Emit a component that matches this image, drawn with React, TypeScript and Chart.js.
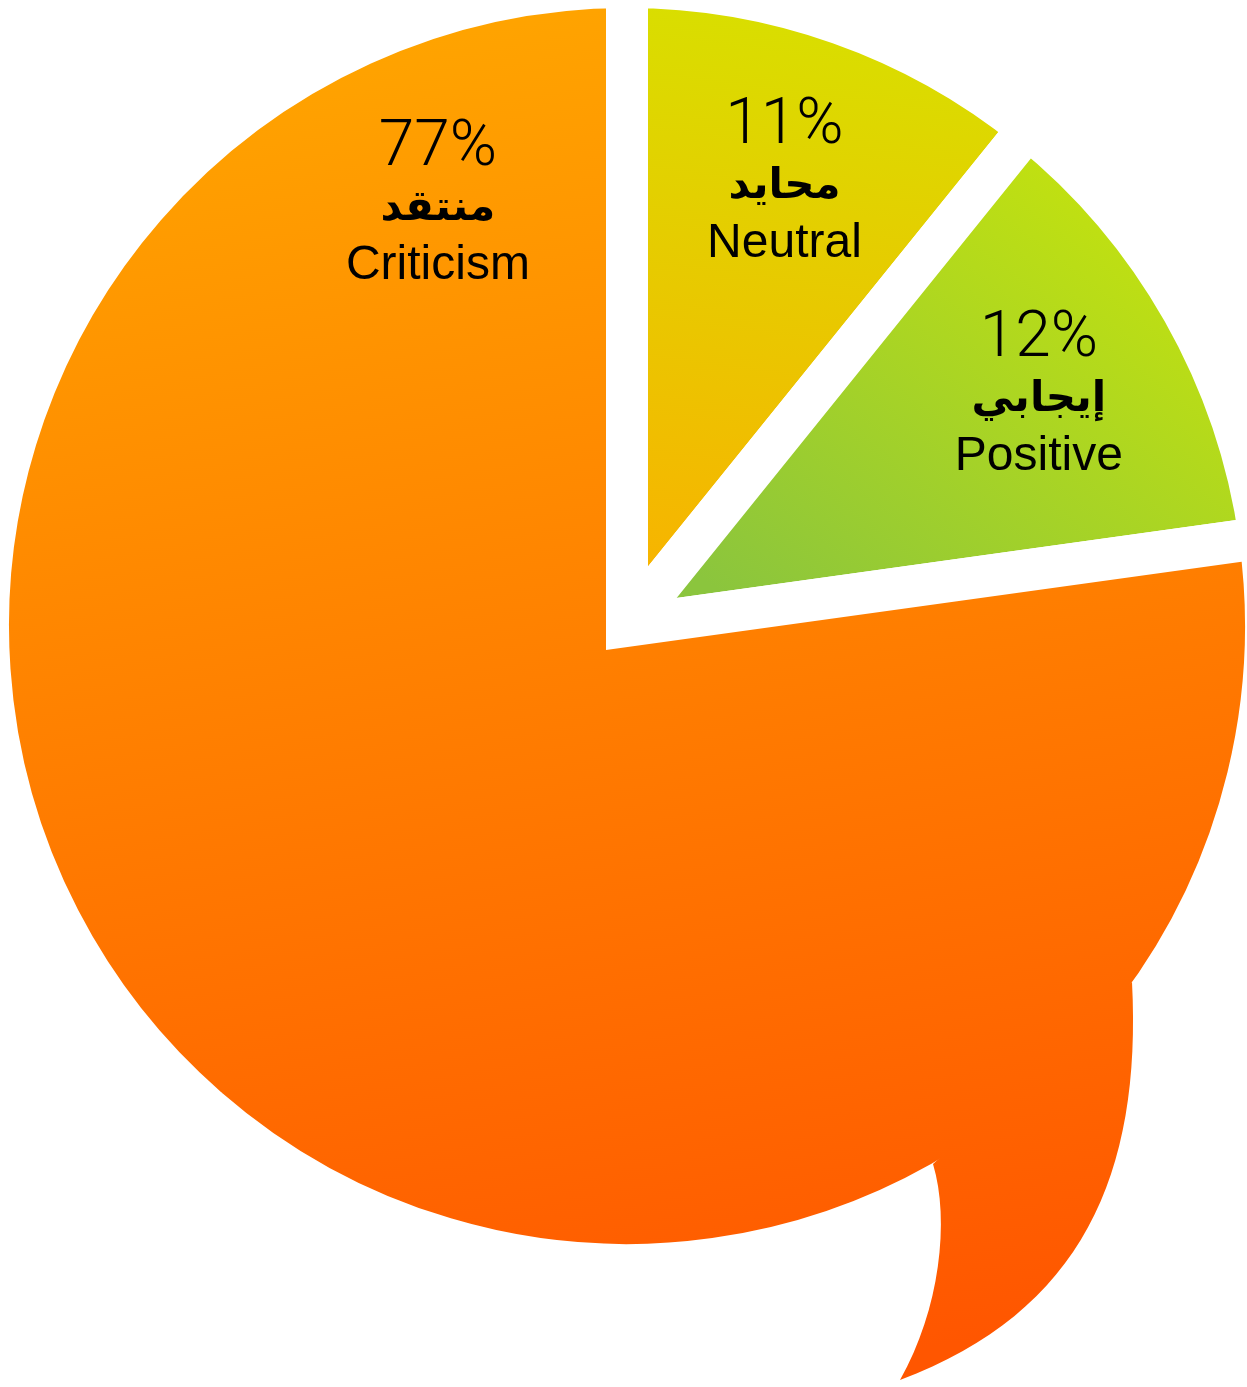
import React, { useEffect, useRef } from "react";
import { Chart, registerables } from "chart.js";

Chart.register(...registerables);

// ---- data ----
const categories = ["Neutral", "Positive", "Criticism"];
const arabicLabels = ["محايد", "إيجابي", "منتقد"];
const shares = [10.8, 12.0, 77.2];
const percentLabels = ["11%", "12%", "77%"];

// ---- styles ----
const gradientTop = ["#D9DE00", "#C4E20E", "#FFA400"];
const gradientBottom = ["#F7B400", "#8BC53D", "#FF5600"];
// gradient start / end, relative to pie centre, in units of the visible radius
const gradientFrom = [[0.12, -1.0], [0.77, -0.75], [-0.2, -1.0]];
const gradientTo = [[0.0, -0.1], [0.21, -0.01], [0.21, 1.22]];
// label anchor: angle (deg, clockwise from 12 o'clock) and radius fraction
const labelAngle = [20.2, 62.4, 335];
const labelRadius = [0.738, 0.752, 0.724];

const GAP = 42; // white gap between slices (drawn as slice border)
const VISIBLE_R = 618;
const W = 1247;
const H = 1387;

function geometry(chart: any) {
  const a = chart.chartArea;
  const cx = (a.left + a.right) / 2;
  const cy = (a.top + a.bottom) / 2;
  return { cx, cy, R: VISIBLE_R };
}

function sliceGradient(chart: any, i: number) {
  const { cx, cy, R } = geometry(chart);
  const g = chart.ctx.createLinearGradient(
    cx + gradientFrom[i][0] * R,
    cy + gradientFrom[i][1] * R,
    cx + gradientTo[i][0] * R,
    cy + gradientTo[i][1] * R
  );
  g.addColorStop(0, gradientTop[i]);
  g.addColorStop(1, gradientBottom[i]);
  return g;
}

const tailPlugin = {
  id: "speechTail",
  afterDatasetsDraw(chart: any) {
    if (!chart.chartArea) return;
    const i = categories.indexOf("Criticism");
    const { cx, cy, R } = geometry(chart);
    const k = R / 618;
    const p = (dx: number, dy: number): [number, number] => [cx + dx * k, cy + dy * k];
    const ctx = chart.ctx;
    ctx.save();
    ctx.beginPath();
    ctx.moveTo(...p(505, 356));
    ctx.bezierCurveTo(...p(515, 548), ...p(455, 686), ...p(273, 754));
    ctx.bezierCurveTo(...p(313, 684), ...p(323, 594), ...p(306, 538));
    ctx.closePath();
    ctx.fillStyle = sliceGradient(chart, i);
    ctx.fill();
    ctx.restore();
  },
};

const labelPlugin = {
  id: "sliceLabels",
  afterDraw(chart: any) {
    const meta = chart.getDatasetMeta(0);
    const ctx = chart.ctx;
    ctx.save();
    ctx.fillStyle = "#000";
    ctx.textAlign = "center";
    ctx.textBaseline = "alphabetic";
    meta.data.forEach((el: any, i: number) => {
      const { x, y } = el.getProps(["x", "y"], true);
      const R = VISIBLE_R;
      const ang = (labelAngle[i] - 90) * Math.PI / 180;
      const lx = x + Math.cos(ang) * R * labelRadius[i];
      const ly = y + Math.sin(ang) * R * labelRadius[i];
      ctx.font = '300 64px Roboto, "Helvetica Neue", Arial, sans-serif';
      ctx.fillText(percentLabels[i], lx, ly - 55);
      ctx.font = 'bold 42px "DejaVu Sans", "Noto Sans", sans-serif';
      ctx.fillText(arabicLabels[i], lx, ly);
      ctx.font = '48px "Liberation Sans", Arial, Helvetica, sans-serif';
      ctx.fillText(categories[i], lx, ly + 59);
    });
    ctx.restore();
  },
};

export default function App() {
  const ref = useRef<HTMLCanvasElement | null>(null);

  useEffect(() => {
    if (!ref.current) return;
    const chart = new Chart(ref.current, {
      type: "pie",
      data: {
        labels: categories,
        datasets: [
          {
            data: shares,
            backgroundColor: (c: any) =>
              c.chart.chartArea ? sliceGradient(c.chart, c.dataIndex) : gradientTop[c.dataIndex],
            borderColor: "#ffffff",
            borderWidth: GAP,
            borderAlign: "center",
            borderJoinStyle: "miter",
          } as any,
        ],
      },
      options: {
        responsive: false,
        animation: false,
        events: [],
        radius: VISIBLE_R + GAP / 2,
        layout: { padding: { left: 7, right: 0, top: 0, bottom: 135 } },
        plugins: {
          legend: { display: false },
          tooltip: { enabled: false },
        },
      } as any,
      plugins: [tailPlugin, labelPlugin],
    });
    return () => chart.destroy();
  }, []);

  return (
    <div style={{ position: "fixed", left: 0, top: 0, width: W, height: H, background: "#fff" }}>
      <canvas ref={ref} width={W} height={H} style={{ display: "block", width: W, height: H }} />
    </div>
  );
}
